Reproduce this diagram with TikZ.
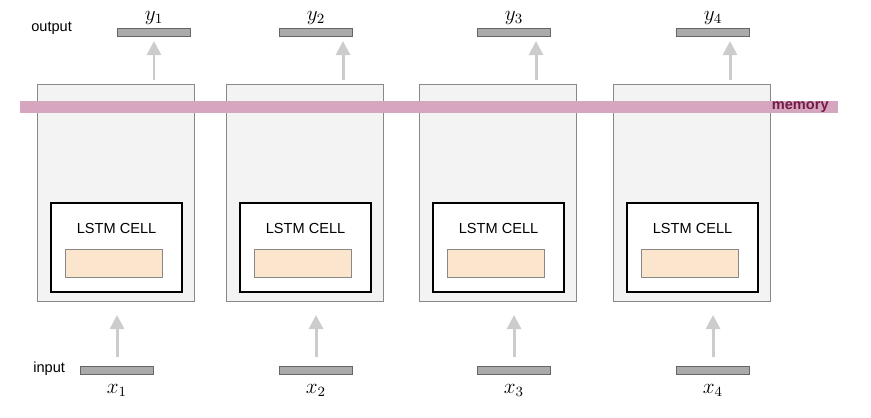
\documentclass[tikz,border=0pt]{standalone}
\usepackage{fontspec}
\setmainfont{Liberation Sans}
\usetikzlibrary{positioning, calc, arrows.meta}

\definecolor{memfill}{HTML}{D5A6BD}
\definecolor{memtext}{HTML}{741B47}
\definecolor{cellfill}{HTML}{F3F3F3}
\definecolor{cellline}{HTML}{888888}
\definecolor{statefill}{HTML}{FCE5CD}
\definecolor{flowgray}{HTML}{CCCCCC}
\definecolor{bargray}{HTML}{AAAAAA}

\tikzset{
  txt/.style={inner sep=0pt, font=\fontsize{8.3}{10}\selectfont},
  mathlbl/.style={font=\fontsize{11.5}{13}\selectfont},
  cellbox/.style={draw=cellline, line width=0.6pt, fill=cellfill, anchor=north west,
    inner sep=0pt, minimum width=3.14cm, minimum height=4.34cm},
  lstmbox/.style={draw=black, line width=1.2pt, fill=white, anchor=north west,
    inner sep=0pt, minimum width=2.62cm, minimum height=1.78cm},
  statebox/.style={draw=cellline, line width=0.6pt, fill=statefill, anchor=north west,
    inner sep=0pt, minimum width=1.94cm, minimum height=0.56cm},
  vecbar/.style={draw=black!60, line width=0.6pt, fill=bargray, anchor=north west,
    inner sep=0pt, minimum width=1.46cm, minimum height=0.16cm},
  flow/.style={draw=flowgray, line width=1.7pt, -{Triangle[width=8pt,length=8pt]}}
}

\begin{document}
\begin{tikzpicture}[x=0.02cm, y=-0.02cm]
  \useasboundingbox (0,0) rectangle (871,418);

  % Row labels
  \node[txt, anchor=west] (outlbl) at (31,28.5) {output};
  \node[txt, anchor=west] (inlbl) at (33,369) {input};

  % Time steps: index / box left / output bar left / input bar left
  \foreach \i/\L/\o/\n in {1/37/117/80, 2/226/279/279, 3/419/477/477, 4/613/676/676} {
    % outer cell
    \node[cellbox] (box\i) at (\L,84) {};
    % output and input vectors
    \node[vecbar] (out\i) at (\o,28) {};
    \node[vecbar] (in\i) at (\n,366) {};
    \node[mathlbl] (y\i) at ($(out\i.north)+(0,-10)$) {$y_\i$};
    \node[mathlbl] (x\i) at ($(in\i.south)+(0,15)$) {$x_\i$};
    % arrows
    \coordinate (up\i) at ($(box\i.north west)+(117,0)$);
    \draw[flow, shorten <=0.07cm, shorten >=0.08cm] (up\i) -- (up\i |- out\i.south);
    \draw[flow, shorten <=0.18cm, shorten >=0.26cm] (in\i.north) -- (in\i.north |- box\i.south);
  }

  % Memory line across all cells
  \node[fill=memfill, anchor=north west, inner sep=0pt, minimum width=16.36cm,
    minimum height=0.24cm] (memory) at (20,101) {};
  \node[txt, anchor=east, text=memtext, font=\fontsize{8.3}{10}\selectfont\bfseries]
    (memlbl) at (829,107.5) {memory};

  % LSTM cells inside
  \foreach \i in {1,...,4} {
    \node[lstmbox] (lstm\i) at ($(box\i.north west)+(13,118)$) {};
    \node[txt] (name\i) at ($(lstm\i.north)+(0,26.5)$) {LSTM CELL};
    \node[statebox] (state\i) at ($(lstm\i.north west)+(15,47)$) {};
  }
\end{tikzpicture}
\end{document}
